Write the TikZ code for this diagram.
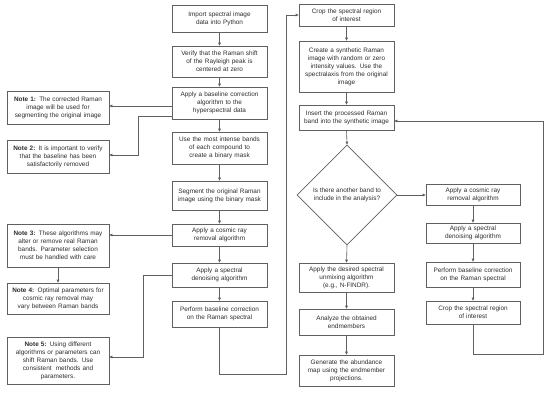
\documentclass[tikz,border=0pt]{standalone}
\usepackage{fontspec}
\setmainfont{Liberation Sans}
\usetikzlibrary{shapes.geometric,arrows.meta}
\definecolor{ln}{HTML}{606060}
\definecolor{tx}{HTML}{2E2E2E}
\begin{document}
\begin{tikzpicture}[x=1pt,y=-1pt,
  box/.style={draw=ln, line width=0.6pt, fill=white, text=tx, align=center,
    inner sep=1pt, font=\fontsize{6.4}{8}\selectfont},
  colbox/.style={box, text width=93pt},
  notebox/.style={box, text width=100pt},
  decision/.style={draw=ln, line width=0.6pt, fill=white, text=tx, diamond, aspect=1,
    inner sep=0pt, minimum width=100pt, minimum height=100pt, align=center,
    font=\fontsize{6.4}{8}\selectfont},
  arr/.style={draw=ln, line width=0.6pt, -{Triangle[length=3pt,width=2.6pt]}},
  loopline/.style={arr, line width=0.9pt}]
\useasboundingbox (0,0) rectangle (550,404);

% column 1
\node[colbox, minimum height=27pt] (A) at (219.5,18.5) {Import spectral image\\data into Python};
\node[colbox, minimum height=31pt] (B) at (219.5,61.5) {Verify that the Raman shift\\of the Rayleigh peak is\\centered at zero};
\node[colbox, minimum height=32pt] (C) at (219.5,103) {Apply a baseline correction\\algorithm to the\\hyperspectral data};
\node[colbox, minimum height=32pt] (D) at (219.5,148) {Use the most intense bands\\of each compound to\\create a binary mask};
\node[colbox, minimum height=29pt] (E) at (219.5,195.5) {Segment the original Raman\\image using the binary mask};
\node[colbox, minimum height=22pt] (F) at (219.5,235) {Apply a cosmic ray\\removal algorithm};
\node[colbox, minimum height=24pt] (G) at (219.5,275) {Apply a spectral\\denoising algorithm};
\node[colbox, minimum height=26pt] (H) at (219.5,314) {Perform baseline correction\\on the Raman spectral};

% notes
\node[notebox, minimum height=33pt] (N1) at (58,107.5) {\textbf{Note 1:} The corrected Raman\\image will be used for\\segmenting the original image};
\node[notebox, minimum height=33pt] (N2) at (58,156.5) {\textbf{Note 2:} It is important to verify\\that the baseline has been\\satisfactorily removed};
\node[notebox, minimum height=43pt] (N3) at (58,245.5) {\textbf{Note 3:} These algorithms may\\alter or remove real Raman\\bands. Parameter selection\\must be handled with care};
\node[notebox, minimum height=31pt] (N4) at (58,298.5) {\textbf{Note 4:} Optimal parameters for\\cosmic ray removal may\\vary between Raman bands};
\node[notebox, minimum height=47pt] (N5) at (58,360.5) {\textbf{Note 5:} Using different\\algorithms or parameters can\\shift Raman bands. Use\\consistent\ \ methods and\\parameters.};

% column 2
\node[colbox, minimum height=22pt] (I) at (346.5,15) {Crop the spectral region\\of interest};
\node[colbox, minimum height=51pt] (J) at (346.5,66.5) {Create a synthetic Raman\\image with random or zero\\intensity values. Use the\\spectralaxis from the original\\image};
\node[colbox, minimum height=25pt] (K) at (346.5,117.5) {Insert the processed Raman\\band into the synthetic image};
\node[decision] (Q0) at (347,195) {Is there another band to\\include in the analysis?};
\node[colbox, minimum height=29pt] (L) at (346.5,277.5) {Apply the desired spectral\\unmixing algorithm\\(e.g., N-FINDR).};
\node[colbox, minimum height=26pt] (M) at (346.5,322) {Analyze the obtained\\endmembers};
\node[colbox, minimum height=31pt] (N) at (346.5,370.5) {Generate the abundance\\map using the endmember\\projections.};

% column 3
\node[colbox, text width=92pt, minimum height=21pt] (O) at (473,194.5) {Apply a cosmic ray\\removal algorithm};
\node[colbox, text width=92pt, minimum height=20pt] (P) at (473,233) {Apply a spectral\\denoising algorithm};
\node[colbox, text width=92pt, minimum height=25pt] (Q) at (473,274.5) {Perform baseline correction\\on the Raman spectral};
\node[colbox, text width=92pt, minimum height=23pt] (R) at (473,312.5) {Crop the spectral region\\of interest};

% vertical flow
\foreach \a/\b in {A/B,B/C,C/D,D/E,E/F,F/G,G/H,I/J,J/K,K/Q0,Q0/L,L/M,M/N,O/P,P/Q,Q/R}
  \draw[arr] (\a.south) -- (\b.north);

% side connectors
\coordinate (c1) at (0,106);
\coordinate (k1) at (138,116);
\coordinate (k2) at (138,155);
\coordinate (k3) at (143,275);
\coordinate (k4) at (143,357);
\coordinate (k5) at (286,374);
\coordinate (k6) at (286,15);
\coordinate (k7) at (543,354);
\coordinate (k8) at (543,121);

\draw[arr] (C.west |- c1) -- (N1.east |- c1);
\draw[arr] (C.west |- k1) -- (k1) -- (k2) -- (N2.east |- k2);
\draw[arr] (F.west) -- (N3.east |- F.west);
\draw[arr] (N3.south) -- (N4.north);
\draw[arr] (G.west |- k3) -- (k3) -- (k4) -- (N5.east |- k4);
\draw[loopline] (H.south) -- (H.south |- k5) -- (k5) -- (k6) -- (I.west |- k6);
\draw[arr] (Q0.east) -- (O.west |- Q0.east);
\draw[arr] (R.south) -- (R.south |- k7) -- (k7) -- (k8) -- (K.east |- k8);
\end{tikzpicture}
\end{document}
